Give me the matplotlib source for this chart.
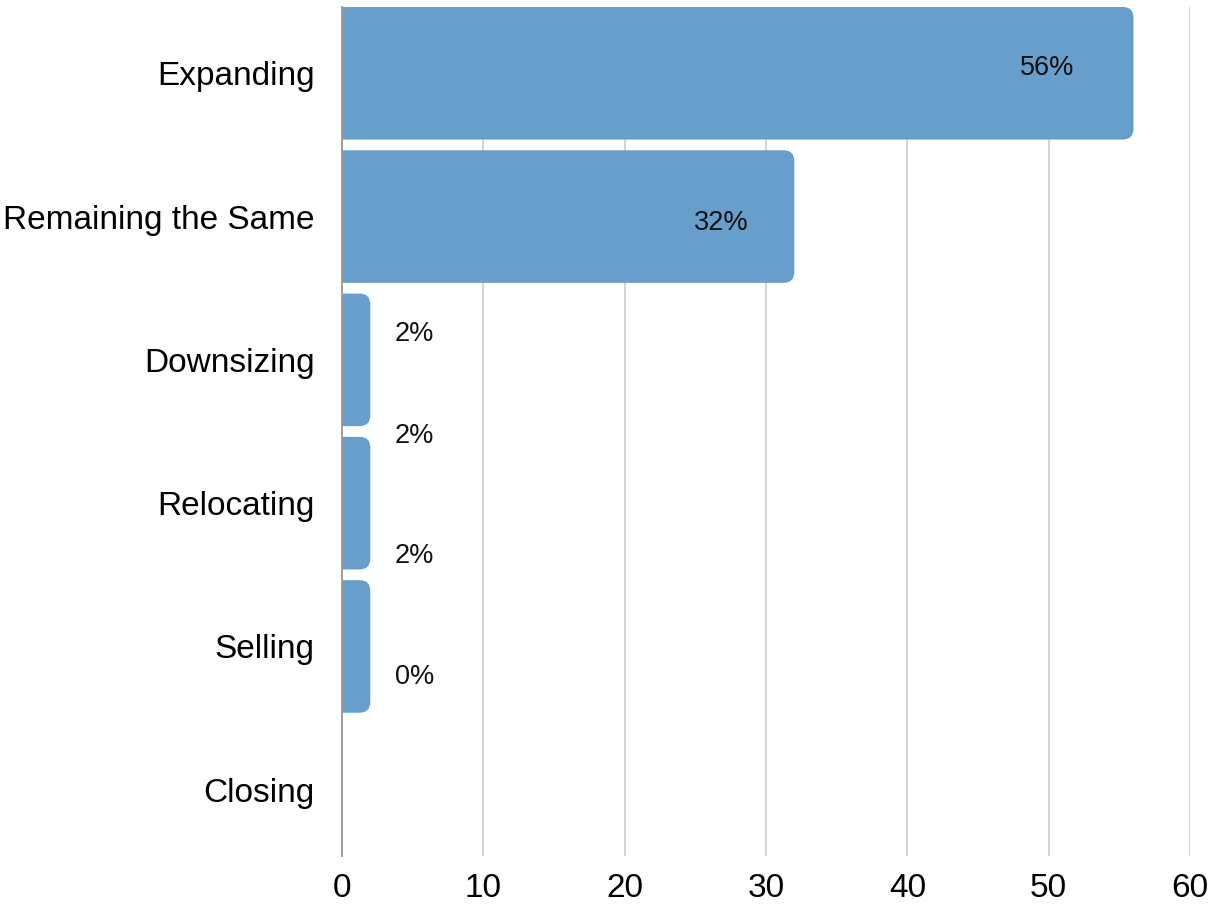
import numpy as np
import matplotlib
matplotlib.use("Agg")
import matplotlib.pyplot as plt
from matplotlib.patches import FancyBboxPatch

plt.rcParams['font.family'] = ['Liberation Sans', 'DejaVu Sans']

categories = ['Expanding', 'Remaining the Same', 'Downsizing', 'Relocating', 'Selling', 'Closing']
values = [56, 32, 2, 2, 2, 0]
labels = ['56%', '32%', '2%', '2%', '2%', '0%']

# label offsets in pixels (dx, dy up) from the bar end / bar centre
label_dx = [-86, -73, 44, 44, 44, 44]
label_dy = [5.5, -6, 25.5, 67, 90, 112.5]

bar_color = '#689ECB'
fig = plt.figure(figsize=(12.09, 9.09), dpi=100)
ax = fig.add_axes([342 / 1209, 53 / 909, 848 / 1209, 849 / 909])

y = np.arange(len(categories))
bar_h = 0.925
bars = ax.barh(y, values, height=bar_h, color=bar_color)

ax.set_xlim(0, 60)
ax.set_ylim(len(categories) - 1 + bar_h / 2, -bar_h / 2)

# px per data unit, used to keep the corner radius round
aspect = (848 / 60) / (849 / (len(categories) - 1 + bar_h))
for b in bars:
    x0, y0 = b.get_x(), b.get_y()
    w, h = b.get_width(), b.get_height()
    b.set_visible(False)
    if w <= 0:
        continue
    p = FancyBboxPatch((x0 - 2, y0), w + 2, h,
                       boxstyle="round,pad=0,rounding_size=0.75",
                       mutation_aspect=aspect,
                       facecolor=bar_color, edgecolor='none', zorder=2)
    ax.add_patch(p)

for i, (v, lab) in enumerate(zip(values, labels)):
    # the 0% label lines up with the small-bar labels
    ax.annotate(lab, xy=(v if v > 0 else 2, y[i]),
                xytext=(label_dx[i] * 0.72, label_dy[i] * 0.72),
                textcoords='offset points', ha='center', va='center',
                fontsize=19.5, color='#111111', zorder=3)

ax.set_yticks(y)
ax.set_yticklabels(categories, fontsize=24)
ax.set_xticks(np.arange(0, 61, 10))
ax.tick_params(axis='x', labelsize=24, length=0, pad=12)
ax.tick_params(axis='y', length=0, pad=19.5)
ax.xaxis.grid(True, color='#cccccc', linewidth=1.2)
ax.set_axisbelow(True)
for s in ['top', 'right', 'bottom']:
    ax.spines[s].set_visible(False)
ax.spines['left'].set_color('#999999')
ax.spines['left'].set_linewidth(1.3)
ax.spines['left'].set_zorder(4)

plt.savefig("out.png", dpi=100)
